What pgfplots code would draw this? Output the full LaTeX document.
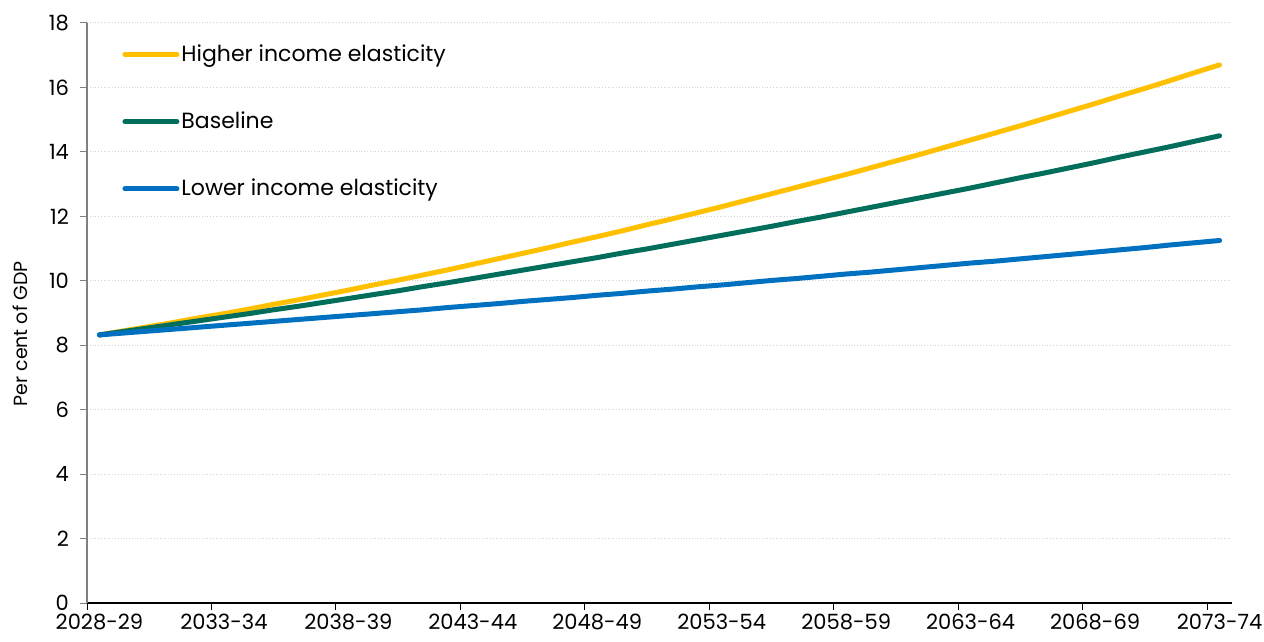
\documentclass[border=0pt]{standalone}
\usepackage{pgfplots}
\usepackage{pgfplotstable}
\pgfplotsset{compat=1.18}
\usepackage{fontspec}
\setmainfont{Poppins}
\definecolor{obryellow}{RGB}{255,192,0}
\definecolor{obrgreen}{RGB}{0,110,90}
\definecolor{obrblue}{RGB}{0,112,192}
\pgfplotstableread{
x hi base lo
0.5 8.32 8.32 8.32
1.5 8.45 8.43 8.38
2.5 8.58 8.54 8.44
3.5 8.71 8.65 8.50
4.5 8.85 8.76 8.56
5.5 8.98 8.87 8.62
6.5 9.12 8.98 8.68
7.5 9.27 9.10 8.74
8.5 9.41 9.21 8.80
9.5 9.56 9.33 8.86
10.5 9.71 9.45 8.92
11.5 9.87 9.57 8.98
12.5 10.02 9.69 9.04
13.5 10.18 9.82 9.10
14.5 10.34 9.94 9.17
15.5 10.51 10.07 9.23
16.5 10.68 10.20 9.29
17.5 10.85 10.33 9.36
18.5 11.02 10.46 9.42
19.5 11.20 10.59 9.48
20.5 11.37 10.72 9.55
21.5 11.55 10.86 9.61
22.5 11.74 10.99 9.68
23.5 11.92 11.13 9.74
24.5 12.11 11.27 9.81
25.5 12.30 11.41 9.87
26.5 12.50 11.55 9.94
27.5 12.70 11.69 10.01
28.5 12.90 11.84 10.07
29.5 13.10 11.98 10.14
30.5 13.30 12.13 10.21
31.5 13.51 12.28 10.27
32.5 13.72 12.43 10.34
33.5 13.93 12.58 10.41
34.5 14.15 12.73 10.48
35.5 14.37 12.88 10.55
36.5 14.59 13.04 10.61
37.5 14.81 13.20 10.68
38.5 15.04 13.35 10.75
39.5 15.27 13.51 10.82
40.5 15.50 13.67 10.89
41.5 15.74 13.84 10.96
42.5 15.97 14.00 11.03
43.5 16.21 14.16 11.11
44.5 16.46 14.33 11.18
45.5 16.70 14.50 11.25
}\data
\begin{document}
\begin{tikzpicture}
\begin{axis}[
  name=ax,
  scale only axis,
  width=572.5pt, height=290pt,
  xmin=0, xmax=46, ymin=0, ymax=18,
  xtick={0,5,...,45},
  xticklabels={},
  extra x ticks={0.5,5.5,...,45.5},
  extra x tick labels={2028-29,2033-34,2038-39,2043-44,2048-49,2053-54,2058-59,2063-64,2068-69,2073-74},
  extra x tick style={tick style={draw=none}, grid=none},
  ytick={0,2,...,18},
  axis lines*=left,
  x axis line style={black, line width=0.6pt},
  y axis line style={gray, line width=0.6pt},
  tick align=outside,
  major tick length=3.5pt,
  x tick style={black, line width=0.5pt},
  y tick style={gray, line width=0.5pt},
  ymajorgrids,
  grid style={densely dotted, color=gray!35, line width=0.5pt},
  tick label style={font=\fontsize{10.5}{12}\selectfont},
  xticklabel style={yshift=0pt, inner ysep=2pt},
  yticklabel style={xshift=-2pt},
  /pgf/number format/assume math mode=true,
  ylabel={Per cent of GDP},
  ylabel style={font=\fontsize{9.5}{11}\selectfont, at={(axis description cs:-0.0585,0.464)}, anchor=center, rotate=0},
  legend style={draw=none, fill=none, at={(axis description cs:0.0306,0.967)}, anchor=north west,
    font=\fontsize{11}{13}\selectfont, row sep=21.75pt, inner sep=0pt,
    nodes={inner sep=1pt}},
  legend cell align=left,
  legend image code/.code={\draw[#1, line width=2.5pt, line cap=round] (0pt,0pt) -- (26pt,0pt);},
]
\addplot[obryellow, line width=2.5pt, line cap=round] table[x=x,y=hi] {\data};
\addlegendentry{Higher income elasticity}
\addplot[obrgreen, line width=2.5pt, line cap=round] table[x=x,y=base] {\data};
\addlegendentry{Baseline}
\addplot[obrblue, line width=2.5pt, line cap=round] table[x=x,y=lo] {\data};
\addlegendentry{Lower income elasticity}
\end{axis}
\pgfresetboundingbox
\path[use as bounding box] ([shift={(-43.5pt,-19pt)}]ax.south west) rectangle ([shift={(16pt,11.5pt)}]ax.north east);
\end{tikzpicture}
\end{document}
